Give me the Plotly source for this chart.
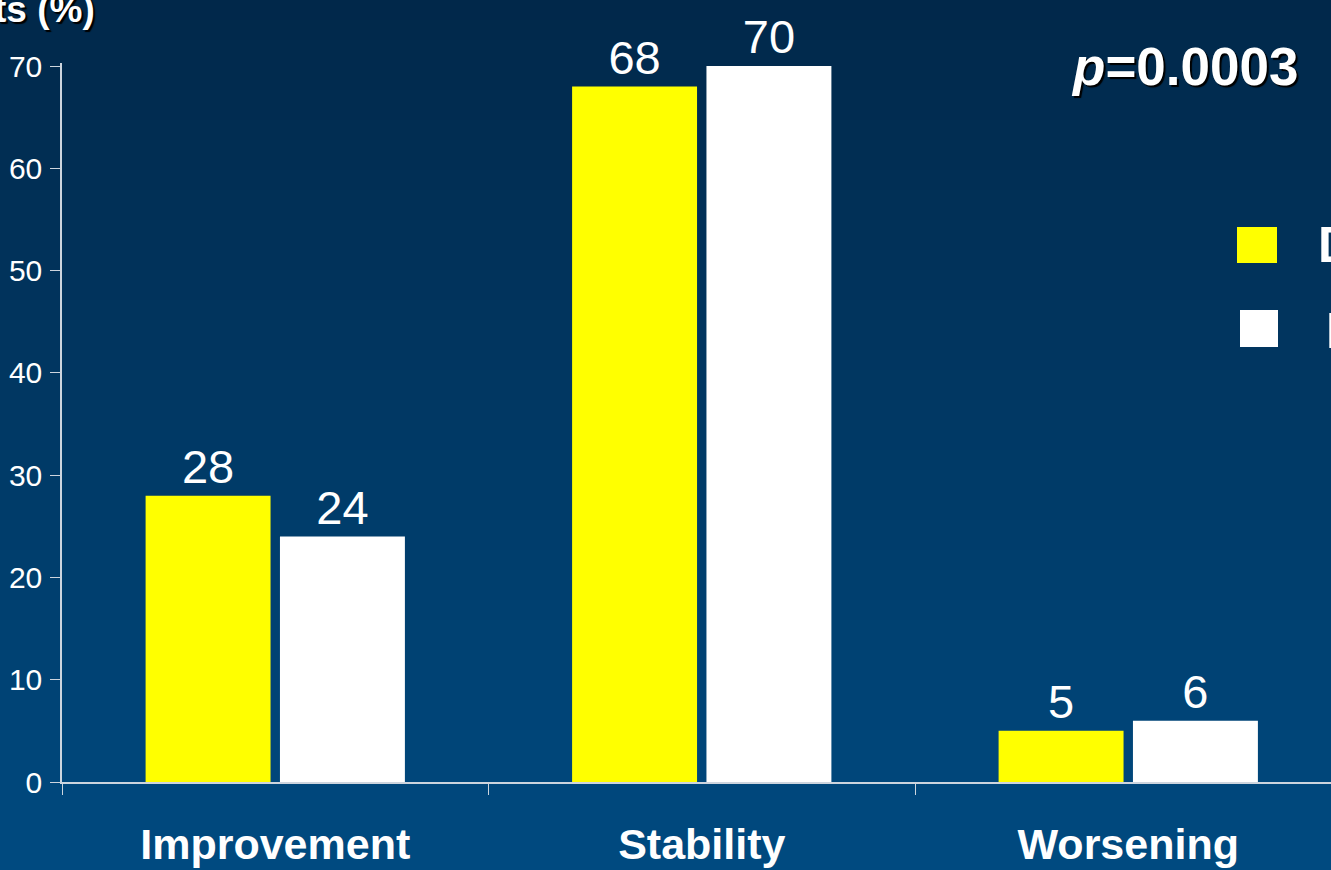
import plotly.graph_objects as go

# ---- data ----
categories = ["Improvement", "Stability", "Worsening"]
series_names = ["Drug", "Placebo"]
values_a = [28, 68, 5]
values_b = [24, 70, 6]
y_tick_vals = [0, 10, 20, 30, 40, 50, 60, 70]
p_label = "<i>p</i>=0.0003"
y_title = "Patients (%)"

# ---- layout geometry ----
W, H = 1331, 870
ML, MR, MT, MB = 62, 0, 63, 88
PW, PH = W - ML - MR, H - MT - MB


def px_x(px):
    return (px - ML) / PW


def px_y(py):
    return (H - MB - py) / PH


FONT = "Arial, Liberation Sans, sans-serif"
YELLOW = "#ffff00"
WHITE = "#ffffff"
AXIS = "#cdd5de"
SHADOW = "2px 2px 1px #000000"

fig = go.Figure()
fig.add_trace(go.Bar(
    x=categories, y=values_a, name=series_names[0],
    marker=dict(color=YELLOW, line=dict(width=0)),
    text=values_a, textposition="outside", cliponaxis=False,
    textfont=dict(family=FONT, size=47, color=WHITE), showlegend=False,
))
fig.add_trace(go.Bar(
    x=categories, y=values_b, name=series_names[1],
    marker=dict(color=WHITE, line=dict(width=0)),
    text=values_b, textposition="outside", cliponaxis=False,
    textfont=dict(family=FONT, size=47, color=WHITE), showlegend=False,
))

# ---- gradient background bands ----
shapes = []
N = 87
top = (1, 40, 74)
bot = (0, 74, 128)
for i in range(N):
    t = i / (N - 1)
    c = tuple(round(top[k] + (bot[k] - top[k]) * t) for k in range(3))
    y0 = H * i / N
    y1 = H * (i + 1) / N + 1
    shapes.append(dict(
        type="rect", xref="paper", yref="paper", layer="below",
        x0=px_x(-5), x1=px_x(W + 5), y0=px_y(y1), y1=px_y(y0),
        fillcolor="rgb(%d,%d,%d)" % c, line=dict(width=0),
    ))

# ---- legend keys ----
legend_keys = [
    (YELLOW, 1237, 1277, 227, 263, 1316, 245),
    (WHITE, 1240, 1278, 310, 347, 1324, 331),
]
annotations = []
for (col, x0, x1, y0, y1, tx, ty), name in zip(legend_keys, series_names):
    shapes.append(dict(
        type="rect", xref="paper", yref="paper",
        x0=px_x(x0), x1=px_x(x1), y0=px_y(y1), y1=px_y(y0),
        fillcolor=col, line=dict(width=0),
    ))
    annotations.append(dict(
        text="<b>%s</b>" % name, xref="paper", yref="paper",
        x=px_x(tx), y=px_y(ty), xanchor="left", yanchor="middle",
        showarrow=False, font=dict(family=FONT, size=50, color=WHITE),
    ))

annotations.append(dict(
    text="<b>%s</b>" % p_label, xref="paper", yref="paper",
    x=px_x(1300), y=px_y(67), xanchor="right", yanchor="middle",
    showarrow=False,
    font=dict(family=FONT, size=53, color=WHITE, shadow=SHADOW),
))
annotations.append(dict(
    text="<b>%s</b>" % y_title, xref="paper", yref="paper",
    x=px_x(97), y=px_y(9), xanchor="right", yanchor="middle",
    showarrow=False,
    font=dict(family=FONT, size=37, color=WHITE, shadow=SHADOW),
))

fig.update_layout(
    width=W, height=H,
    margin=dict(l=ML, r=MR, t=MT, b=MB, pad=0),
    paper_bgcolor="rgb(0,56,100)",
    plot_bgcolor="rgba(0,0,0,0)",
    barmode="group", bargap=0.37, bargroupgap=0.07,
    shapes=shapes, annotations=annotations,
    showlegend=False,
    xaxis=dict(
        type="category", range=[-0.5, -0.5 + PW / 426.5],
        tickson="boundaries", ticks="outside", ticklen=11, tickwidth=1,
        tickcolor=AXIS, showline=True, linecolor=AXIS, linewidth=1.5,
        showgrid=False, zeroline=False,
        tickfont=dict(family=FONT, size=43, color=WHITE),
        tickprefix="<b>", ticksuffix="</b>",
        ticklabelstandoff=24,
    ),
    yaxis=dict(
        range=[0, 70.3], tickvals=y_tick_vals, ticks="outside", ticklen=10,
        tickwidth=1, tickcolor=AXIS, showline=True, linecolor=AXIS,
        linewidth=1.5, showgrid=False, zeroline=False,
        tickfont=dict(family=FONT, size=30, color=WHITE),
        ticklabelstandoff=2,
    ),
)

fig.write_html("out.html")
